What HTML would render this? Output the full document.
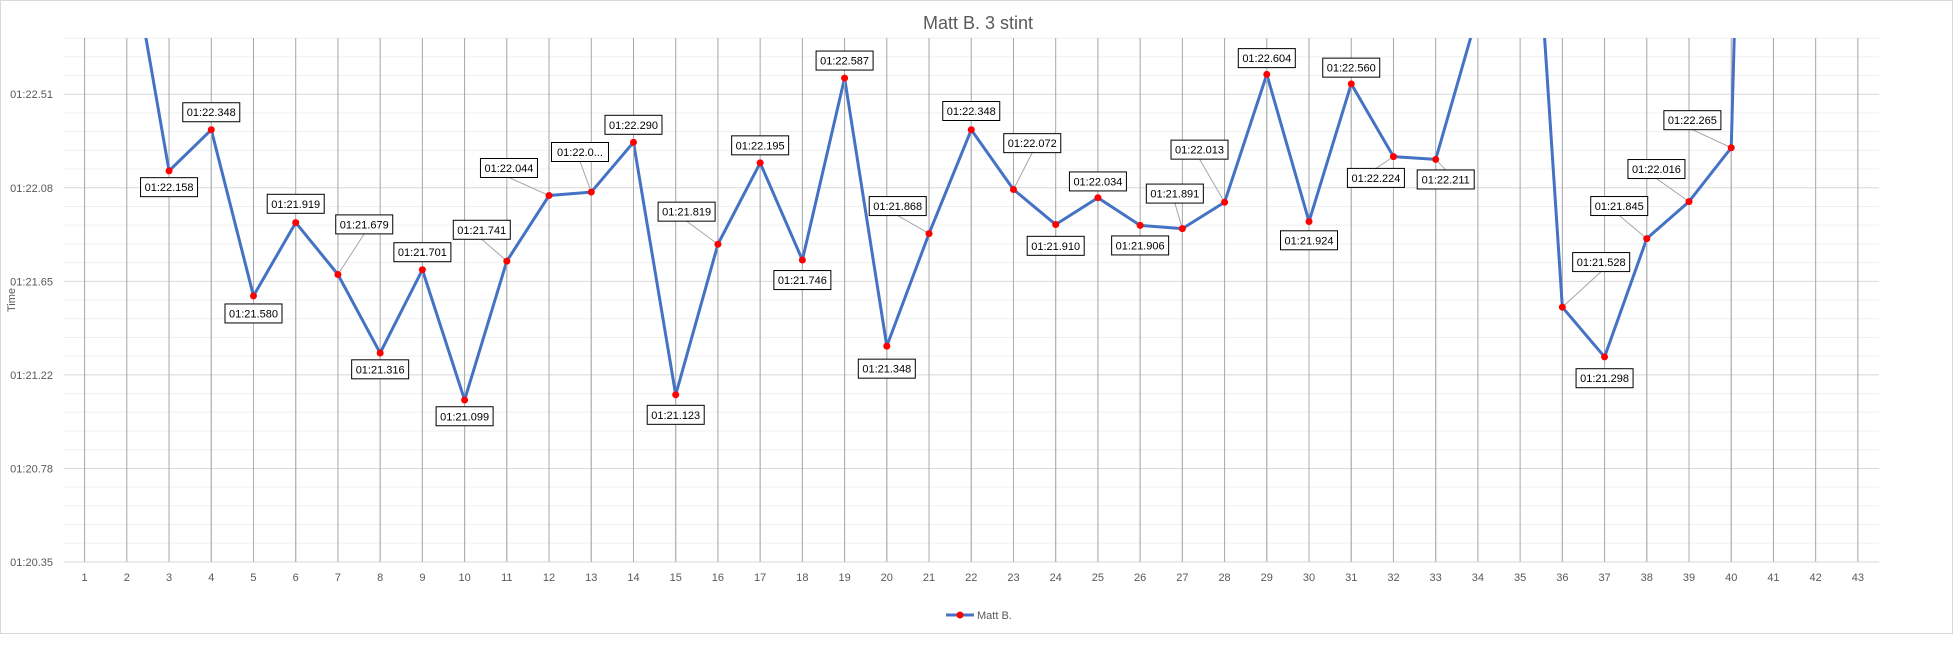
<!DOCTYPE html>
<html>
<head>
<meta charset="utf-8">
<style>
  html,body{margin:0;padding:0;background:#fff;}
  body{width:1959px;height:648px;overflow:hidden;font-family:"Liberation Sans",sans-serif;}
  svg{display:block;}
</style>
</head>
<body>
<svg id="chart" width="1959" height="648" xmlns="http://www.w3.org/2000/svg">
  <rect x="0.5" y="0.5" width="1952" height="633" fill="#fff" stroke="#d9d9d9"/>
  <text x="978" y="29" text-anchor="middle" font-size="18" fill="#595959" font-family="Liberation Sans, sans-serif">Matt B. 3 stint</text>
  <g id="grid"></g>
  <g id="yaxis"></g>
  <g id="xaxis"></g>
  <g id="series"></g>
  <g id="labels"></g>
  <text transform="translate(15,300) rotate(-90)" text-anchor="middle" font-size="11" fill="#595959">Time</text>
  <g>
    <line x1="946" y1="615" x2="974" y2="615" stroke="#4472c4" stroke-width="3"/>
    <circle cx="960" cy="615" r="3.5" fill="#ff0000"/>
    <text x="977" y="619" font-size="11" fill="#595959">Matt B.</text>
  </g>
</svg>
<script>
// Data
const laps = [1,2,3,4,5,6,7,8,9,10,11,12,13,14,15,16,17,18,19,20,21,22,23,24,25,26,27,28,29,30,31,32,33,34,35,36,37,38,39,40,41,42,43];
// seconds past 1:20 (null = no lap)
const lapSeconds = [25.5,23.28,22.158,22.348,21.580,21.919,21.679,21.316,21.701,21.099,21.741,22.044,22.060,22.290,21.123,21.819,22.195,21.746,22.587,21.348,21.868,22.348,22.072,21.910,22.034,21.906,21.891,22.013,22.604,21.924,22.560,22.224,22.211,22.89,24.49,21.528,21.298,21.845,22.016,22.265,29.4,null,null];
const showLabel = [false,false,true,true,true,true,true,true,true,true,true,true,true,true,true,true,true,true,true,true,true,true,true,true,true,true,true,true,true,true,true,true,true,false,false,true,true,true,true,true,false,false,false];
const labelOverride = {13:"01:22.0..."};
const yTickLabels = ["01:20.35","01:20.78","01:21.22","01:21.65","01:22.08","01:22.51"];
const yMin = 20.35, yStep = 0.4325;
// label offsets (display units, scaled later)
const labelDx = [0,0,0,0,0,0,21,0,0,0,-20,-32,-9,0,0,-25,0,0,0,0,-25,0,15,0,0,0,-6,-20,0,0,0,-14,8,0,0,31,0,-22,-26,-31,0,0,0];
const labelDy = [0,0,13,-14,14,-15,-40,13,-14,13,-25,-22,-32,-14,16,-26,-14,16,-14,18,-22,-15,-37,17,-13,16,-28,-42,-13,15,-13,17,16,0,0,-36,17,-26,-26,-22,0,0,0];

const NS = "http://www.w3.org/2000/svg";
const plotL = 63.5, plotR = 1879, plotT = 38, plotB = 562;
const band = (plotR - plotL) / laps.length;
const pxPerStep = (plotB - 94.2) / 5;
function xScale(i){ return plotL + band * (i + 0.5); }
function yScale(v){ return plotB - (v - yMin) / yStep * pxPerStep; }
function mk(tag, attrs, parent){ const e=document.createElementNS(NS,tag); for(const k in attrs) e.setAttribute(k,attrs[k]); parent.appendChild(e); return e; }

const grid = document.getElementById('grid');
// horizontal gridlines (major + minor)
for (let k = 0; k <= 30; k++) {
  const y = plotB - k * pxPerStep / 5;
  if (y < plotT - 0.5) break;
  const major = k % 5 === 0;
  const l = mk('line',{x1:plotL,x2:plotR,y1:y,y2:y,stroke: major?'#d9d9d9':'#f0f0f0','stroke-width':1},grid);
  
  
}
mk('line',{x1:plotL,x2:plotR,y1:plotT,y2:plotT,stroke:'#f0f0f0'},grid);
// vertical gridlines
laps.forEach((d,i)=>{
  const x = xScale(i);
  const l = mk('line',{x1:x,x2:x,y1:plotT,y2:plotB,stroke:'#a6a6a6','stroke-width':1},grid);
  
  
});
mk('line',{x1:plotL,x2:plotR,y1:plotB,y2:plotB,stroke:'#d9d9d9'},grid);

// y-axis labels
const ya = document.getElementById('yaxis');
yTickLabels.forEach((t,k)=>{
  const tx = mk('text',{x:53,y:yScale(yMin + k*yStep)+4,'text-anchor':'end','font-size':11,fill:'#595959'},ya);
  tx.textContent = t;
  
  
});
// x-axis labels
const xa = document.getElementById('xaxis');
laps.forEach((d,i)=>{
  const tx = mk('text',{x:xScale(i),y:581,'text-anchor':'middle','font-size':11,fill:'#595959'},xa);
  tx.textContent = d;
  
  
});

// series
const sg = document.getElementById('series');
const clip = mk('clipPath',{id:'plotclip'},sg);
mk('rect',{x:plotL,y:plotT,width:plotR-plotL,height:plotB-plotT},clip);
let pts = [];
lapSeconds.forEach((v,i)=>{ if(v!==null) pts.push(xScale(i)+','+yScale(v)); });
const line = mk('polyline',{points:pts.join(' '),fill:'none',stroke:'#4472c4','stroke-width':3,'stroke-linejoin':'round','clip-path':'url(#plotclip)'},sg);



const lg = document.getElementById('labels');
const S = 1.2526;
lapSeconds.forEach((v,i)=>{
  if (v===null) return;
  const x = xScale(i), y = yScale(v);
  if (y < plotT || y > plotB) return;
  // drop line
  mk('line',{x1:x,x2:x,y1:y,y2:plotB,stroke:'#b0b0b0','stroke-width':1},sg);
  if (showLabel[i]) {
    const cx = x + labelDx[i]*S, cy = y + labelDy[i]*S;
    const w = 57, h = 19;
    if (Math.abs(labelDx[i]) > 3 || Math.abs(labelDy[i]) > 25) {
      const ly = cy + (cy < y ? h/2 : -h/2);
      mk('line',{x1:x,y1:y,x2:cx,y2:ly,stroke:'#a6a6a6','stroke-width':1},lg);
    }
    const g = mk('g',{},lg);
    
    
    mk('rect',{x:cx-w/2,y:cy-h/2,width:w,height:h,fill:'#fff',stroke:'#000','stroke-width':1},g);
    const t = mk('text',{x:cx,y:cy+4,'text-anchor':'middle','font-size':11,fill:'#000'},g);
    t.textContent = labelOverride[laps[i]] || ('01:' + v.toFixed(3));
  }
  const c = mk('circle',{cx:x,cy:y,r:3.5,fill:'#ff0000'},lg);
  
  
});
</script>
</body>
</html>
